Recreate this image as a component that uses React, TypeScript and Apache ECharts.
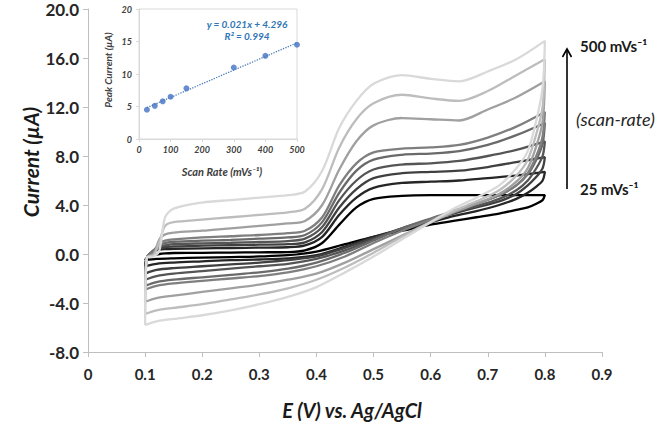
import React, { useEffect, useRef } from "react";
import * as echarts from "echarts";

// Potential grid (V) for the anodic (forward) and cathodic (reverse) sweeps
const E_FWD = [0.1, 0.103, 0.115, 0.125, 0.135, 0.15, 0.2, 0.25, 0.3, 0.35, 0.38, 0.41, 0.44, 0.47, 0.5, 0.55, 0.6, 0.65, 0.7, 0.75, 0.8];
const E_REV = [0.796, 0.785, 0.77, 0.75, 0.72, 0.68, 0.64, 0.6, 0.55, 0.5, 0.45, 0.4, 0.35, 0.3, 0.25, 0.2, 0.15, 0.12, 0.1];

// Current (µA) per scan rate
const FWD_25 = [-0.5, -0.3, -0.1, 0.0, 0.05, 0.08, 0.1, 0.12, 0.14, 0.16, 0.3, 0.9, 2.4, 3.8, 4.5, 4.75, 4.8, 4.8, 4.8, 4.8, 4.8];
const REV_25 = [4.4, 4.1, 3.8, 3.6, 3.3, 3.0, 2.7, 2.4, 1.9, 1.4, 0.8, 0.2, -0.1, -0.2, -0.25, -0.3, -0.35, -0.4, -0.5];
const FWD_50 = [-1.0, -0.3, 0.2, 0.35, 0.4, 0.43, 0.46, 0.49, 0.52, 0.55, 0.7, 1.4, 3.2, 4.6, 5.4, 5.8, 5.9, 6.0, 6.2, 6.4, 6.7];
const REV_50 = [6.0, 5.5, 5.0, 4.5, 4.0, 3.5, 3.1, 2.6, 2.0, 1.4, 0.6, -0.1, -0.35, -0.45, -0.5, -0.6, -0.7, -0.8, -1.0];
const FWD_75 = [-1.6, -0.3, 0.3, 0.5, 0.55, 0.62, 0.68, 0.72, 0.76, 0.8, 0.95, 1.8, 3.8, 5.3, 6.2, 6.6, 6.7, 6.8, 7.1, 7.5, 7.9];
const REV_75 = [7.0, 6.3, 5.6, 4.9, 4.3, 3.8, 3.3, 2.8, 2.1, 1.3, 0.5, -0.2, -0.5, -0.7, -0.85, -1.0, -1.15, -1.3, -1.6];
const FWD_100 = [-2.1, -0.3, 0.3, 0.6, 0.7, 0.8, 0.87, 0.92, 0.98, 1.05, 1.25, 2.2, 4.4, 6.0, 6.9, 7.3, 7.4, 7.6, 8.0, 8.5, 9.2];
const REV_100 = [8.0, 7.0, 6.0, 5.2, 4.5, 3.9, 3.4, 2.8, 2.1, 1.2, 0.3, -0.4, -0.8, -1.0, -1.2, -1.4, -1.6, -1.8, -2.1];
const FWD_150 = [-2.6, -0.3, 0.3, 0.75, 0.9, 1.0, 1.09, 1.15, 1.25, 1.35, 1.55, 2.6, 5.0, 6.8, 7.7, 8.1, 8.2, 8.4, 8.9, 9.7, 10.7];
const REV_150 = [9.0, 7.7, 6.5, 5.6, 4.8, 4.1, 3.5, 2.9, 2.1, 1.1, 0.1, -0.7, -1.2, -1.5, -1.7, -1.9, -2.1, -2.3, -2.6];
const FWD_200 = [-2.9, -0.3, 0.2, 0.9, 1.1, 1.2, 1.36, 1.45, 1.55, 1.7, 1.9, 3.0, 5.6, 7.4, 8.3, 8.6, 8.7, 8.9, 9.5, 10.4, 11.6];
const REV_200 = [9.6, 8.0, 6.6, 5.6, 4.8, 4.1, 3.5, 2.8, 1.9, 0.9, -0.2, -1.0, -1.5, -1.8, -2.0, -2.2, -2.4, -2.6, -2.9];
const FWD_300 = [-3.9, -0.3, 0.0, 1.2, 1.6, 1.75, 1.9, 2.1, 2.3, 2.5, 2.7, 4.0, 6.9, 9.2, 10.5, 11.1, 11.0, 10.9, 11.8, 12.8, 14.1];
const REV_300 = [10.8, 8.8, 7.0, 5.9, 4.9, 4.1, 3.4, 2.6, 1.5, 0.4, -0.7, -1.6, -2.1, -2.5, -2.8, -3.1, -3.4, -3.6, -3.9];
const FWD_400 = [-4.9, -0.3, -0.1, 1.0, 2.3, 2.6, 2.8, 3.0, 3.2, 3.4, 3.7, 5.3, 8.7, 11.0, 12.3, 13.0, 12.7, 12.5, 13.3, 14.6, 15.9];
const REV_400 = [12.0, 9.8, 7.7, 6.4, 5.2, 4.3, 3.5, 2.6, 1.4, 0.1, -1.1, -2.1, -2.8, -3.3, -3.7, -4.1, -4.4, -4.6, -4.9];
const FWD_500 = [-5.8, -0.3, -0.2, 0.3, 3.0, 3.7, 4.2, 4.4, 4.6, 4.8, 5.1, 6.8, 10.3, 12.5, 13.9, 14.6, 14.3, 14.1, 14.9, 15.9, 17.4];
const REV_500 = [13.6, 10.9, 8.4, 7.0, 5.6, 4.6, 3.7, 2.6, 1.2, -0.2, -1.5, -2.7, -3.5, -4.1, -4.6, -5.0, -5.3, -5.5, -5.8];

const CURVES = [
  { fwd: FWD_25, rev: REV_25, color: "#000000" },
  { fwd: FWD_50, rev: REV_50, color: "#262626" },
  { fwd: FWD_75, rev: REV_75, color: "#404040" },
  { fwd: FWD_100, rev: REV_100, color: "#555555" },
  { fwd: FWD_150, rev: REV_150, color: "#6a6a6a" },
  { fwd: FWD_200, rev: REV_200, color: "#7f7f7f" },
  { fwd: FWD_300, rev: REV_300, color: "#a0a0a0" },
  { fwd: FWD_400, rev: REV_400, color: "#bdbdbd" },
  { fwd: FWD_500, rev: REV_500, color: "#d9d9d9" },
];

// Inset: peak current vs scan rate
const SCAN_RATES = [25, 50, 75, 100, 150, 300, 400, 500];
const PEAK_CURRENTS = [4.5, 5.1, 5.8, 6.5, 7.8, 11.0, 12.8, 14.5];
const TREND_X = [25, 500];
const TREND_Y = [4.82, 14.8];

const FONT = "Lato, 'Open Sans', sans-serif";

export default function App() {
  const ref = useRef<HTMLDivElement>(null);
  useEffect(() => {
    if (!ref.current) return;
    const chart = echarts.init(ref.current, undefined, { renderer: "svg" });
    const cvSeries = CURVES.map((c) => {
      const data: number[][] = [];
      E_FWD.forEach((e, i) => data.push([e, c.fwd[i]]));
      E_REV.forEach((e, i) => data.push([e, c.rev[i]]));
      return {
        type: "line",
        xAxisIndex: 0,
        yAxisIndex: 0,
        data,
        showSymbol: false,
        symbol: "none",
        smooth: 0.3,
        lineStyle: { color: c.color, width: 2.3 },
        z: 2,
      };
    });
    const axisGray = "#bfbfbf";
    chart.setOption({
      animation: false,
      backgroundColor: "#ffffff",
      grid: [
        { left: 88, top: 9, right: 64, bottom: 75 },
        {
          left: 139,
          top: 9,
          width: 158,
          height: 130,
          show: true,
          backgroundColor: "#ffffff",
          borderColor: "#d9d9d9",
          borderWidth: 1,
          z: 5,
        },
      ],
      xAxis: [
        {
          type: "value",
          gridIndex: 0,
          min: 0,
          max: 0.9,
          interval: 0.1,
          axisLine: { show: true, onZero: false, lineStyle: { color: axisGray, width: 1 } },
          axisTick: { show: true, length: 5, lineStyle: { color: axisGray } },
          splitLine: { show: false },
          axisLabel: {
            margin: 14,
            fontFamily: FONT,
            fontWeight: "bold",
            fontSize: 15,
            color: "#262626",
            formatter: (v: number) => (v === 0 ? "0" : v.toFixed(1)),
          },
        },
        {
          type: "value",
          gridIndex: 1,
          min: 0,
          max: 500,
          interval: 100,
          z: 6,
          axisLine: { show: true, onZero: false, lineStyle: { color: "#d9d9d9" } },
          axisTick: { show: true, length: 3, lineStyle: { color: "#d9d9d9" } },
          splitLine: { show: false },
          axisLabel: {
            margin: 6,
            fontFamily: FONT,
            fontStyle: "italic",
            fontWeight: "bold",
            fontSize: 9,
            color: "#404040",
          },
        },
      ],
      yAxis: [
        {
          type: "value",
          gridIndex: 0,
          min: -8,
          max: 20,
          interval: 4,
          axisLine: { show: true, onZero: false, lineStyle: { color: axisGray, width: 1 } },
          axisTick: { show: true, length: 5, lineStyle: { color: axisGray } },
          splitLine: { show: false },
          axisLabel: {
            margin: 9,
            fontFamily: FONT,
            fontWeight: "bold",
            fontSize: 17,
            color: "#262626",
            formatter: (v: number) => v.toFixed(1),
          },
        },
        {
          type: "value",
          gridIndex: 1,
          min: 0,
          max: 20,
          interval: 5,
          z: 6,
          axisLine: { show: true, onZero: false, lineStyle: { color: "#d9d9d9" } },
          axisTick: { show: true, length: 3, lineStyle: { color: "#d9d9d9" } },
          splitLine: { show: false },
          axisLabel: {
            margin: 7,
            fontFamily: FONT,
            fontStyle: "italic",
            fontWeight: "bold",
            fontSize: 9,
            color: "#404040",
          },
        },
      ],
      series: [
        ...cvSeries,
        {
          type: "line",
          xAxisIndex: 1,
          yAxisIndex: 1,
          data: TREND_X.map((x, i) => [x, TREND_Y[i]]),
          showSymbol: false,
          symbol: "none",
          lineStyle: { color: "#4a7ebb", width: 1.3, type: "dotted" },
          z: 7,
        },
        {
          type: "scatter",
          xAxisIndex: 1,
          yAxisIndex: 1,
          data: SCAN_RATES.map((x, i) => [x, PEAK_CURRENTS[i]]),
          symbol: "circle",
          symbolSize: 6,
          itemStyle: { color: "#4472c4" },
          z: 8,
        },
      ],
      graphic: [
        {
          type: "text",
          x: 30,
          y: 162,
          rotation: Math.PI / 2,
          style: {
            text: "Current (µA)",
            fontFamily: FONT,
            fontWeight: "bold",
            fontStyle: "italic",
            fontSize: 21,
            fill: "#1a1a1a",
            textAlign: "center",
            textVerticalAlign: "middle",
          },
        },
        {
          type: "text",
          x: 352,
          y: 410,
          style: {
            text: "E (V) vs. Ag/AgCl",
            fontFamily: FONT,
            fontWeight: "bold",
            fontStyle: "italic",
            fontSize: 20,
            fill: "#1a1a1a",
            textAlign: "center",
            textVerticalAlign: "middle",
          },
        },
        {
          type: "text",
          x: 108,
          y: 70,
          rotation: Math.PI / 2,
          z: 10,
          style: {
            text: "Peak Current (µA)",
            fontFamily: FONT,
            fontWeight: "bold",
            fontStyle: "italic",
            fontSize: 10,
            fill: "#404040",
            textAlign: "center",
            textVerticalAlign: "middle",
          },
        },
        {
          type: "text",
          x: 222,
          y: 171,
          z: 10,
          style: {
            text: "Scan Rate (mVs⁻¹)",
            fontFamily: FONT,
            fontWeight: "bold",
            fontStyle: "italic",
            fontSize: 11,
            fill: "#404040",
            textAlign: "center",
            textVerticalAlign: "middle",
          },
        },
        {
          type: "text",
          x: 247,
          y: 24,
          z: 10,
          style: {
            text: "y = 0.021x + 4.296",
            fontFamily: FONT,
            fontWeight: "bold",
            fontStyle: "italic",
            fontSize: 10,
            fill: "#2e75b6",
            textAlign: "center",
            textVerticalAlign: "middle",
          },
        },
        {
          type: "text",
          x: 247,
          y: 36,
          z: 10,
          style: {
            text: "R² = 0.994",
            fontFamily: FONT,
            fontWeight: "bold",
            fontStyle: "italic",
            fontSize: 10,
            fill: "#2e75b6",
            textAlign: "center",
            textVerticalAlign: "middle",
          },
        },
        {
          type: "line",
          shape: { x1: 567, y1: 189, x2: 567, y2: 50 },
          style: { stroke: "#000000", lineWidth: 1.6 },
        },
        {
          type: "polyline",
          shape: { points: [[562.5, 57], [567, 49], [571.5, 57]] },
          style: { stroke: "#000000", lineWidth: 1.6, fill: null },
        },
        {
          type: "text",
          x: 580,
          y: 46,
          style: {
            text: "500 mVs⁻¹",
            fontFamily: FONT,
            fontWeight: "bold",
            fontSize: 15,
            fill: "#1a1a1a",
            textAlign: "left",
            textVerticalAlign: "middle",
          },
        },
        {
          type: "text",
          x: 576,
          y: 119,
          style: {
            text: "(scan-rate)",
            fontFamily: FONT,
            fontStyle: "italic",
            fontSize: 18,
            fill: "#262626",
            textAlign: "left",
            textVerticalAlign: "middle",
          },
        },
        {
          type: "text",
          x: 580,
          y: 189,
          style: {
            text: "25 mVs⁻¹",
            fontFamily: FONT,
            fontWeight: "bold",
            fontSize: 15,
            fill: "#1a1a1a",
            textAlign: "left",
            textVerticalAlign: "middle",
          },
        },
      ],
    });
    return () => chart.dispose();
  }, []);
  return (
    <div
      ref={ref}
      style={{ position: "fixed", left: 0, top: 0, width: 666, height: 427 }}
    />
  );
}
